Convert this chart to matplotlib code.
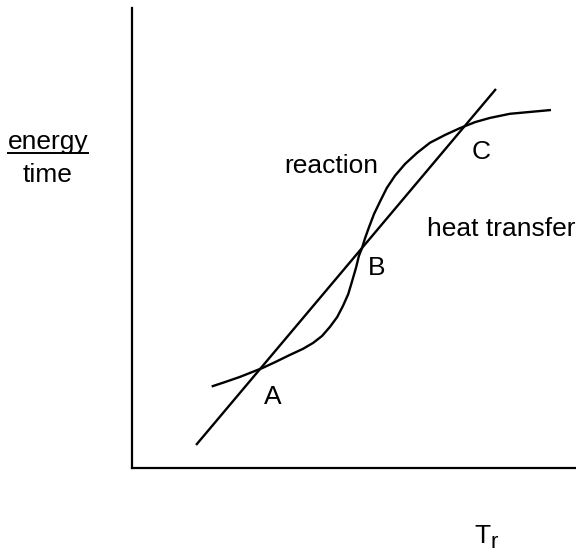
import numpy as np
import matplotlib
matplotlib.use("Agg")
import matplotlib.pyplot as plt
from matplotlib.lines import Line2D

plt.rcParams['font.family'] = ['Liberation Sans', 'DejaVu Sans']

# heat transfer line (straight) - two end points
heat_T = [1.46, 8.18]
heat_q = [0.52, 8.22]

# reaction curve (S shape)
reac_T = [1.82, 2.10, 2.43, 2.77, 2.93, 3.22, 3.56, 3.85, 4.08, 4.28, 4.46,
          4.62, 4.75, 4.87, 4.96, 5.05, 5.11, 5.18, 5.25, 5.34, 5.45, 5.59,
          5.74, 5.92, 6.15, 6.42, 6.71, 7.05, 7.39, 7.73, 8.06, 8.51, 8.96, 9.41]
reac_q = [1.78, 1.87, 1.98, 2.11, 2.17, 2.30, 2.46, 2.59, 2.72, 2.87, 3.07,
          3.28, 3.52, 3.78, 4.07, 4.37, 4.61, 4.78, 5.00, 5.24, 5.52, 5.80,
          6.09, 6.35, 6.61, 6.85, 7.07, 7.24, 7.39, 7.52, 7.61, 7.70, 7.74, 7.78]

# intersection labels
pt_names = ["A", "B", "C"]
pt_T = [3.18, 5.52, 7.86]
pt_q = [1.54, 4.35, 6.87]

fig = plt.figure(figsize=(5.76, 5.54), dpi=100)
ax = fig.add_axes([132/576, 86/554, 444/576, 460/554])

ax.plot(heat_T, heat_q, color='black', lw=1.7)
ax.plot(reac_T, reac_q, color='black', lw=1.7, solid_joinstyle='round')

for n, t, q in zip(pt_names, pt_T, pt_q):
    ax.text(t, q, n, fontsize=19, ha='center', va='center')

ax.text(4.48, 6.57, "reaction", fontsize=19, ha='center', va='center')
ax.text(6.64, 5.04, "heat transfer", fontsize=19, ha='left', va='baseline')

ax.set_xlim(0, 10)
ax.set_ylim(0, 10)
ax.spines['top'].set_visible(False)
ax.spines['right'].set_visible(False)
ax.spines['left'].set_linewidth(1.6)
ax.spines['bottom'].set_linewidth(1.6)
ax.set_xticks([])
ax.set_yticks([])

# y label: energy / time
fig.text(48/576, 1 - 149/554, "energy", fontsize=19, ha='center', va='baseline')
fig.text(48/576, 1 - 182/554, "time", fontsize=19, ha='center', va='baseline')
fig.add_artist(Line2D([8/576, 88/576], [1 - 153/554, 1 - 153/554],
                      color='black', lw=1.4, transform=fig.transFigure))

# x label: T with subscript r
fig.text(482/576, 1 - 543/554, "T", fontsize=19, ha='center', va='baseline')
fig.text(490/576, 1 - 553/554, "r", fontsize=16, ha='left', va='bottom')

fig.savefig("out.png", dpi=100)
